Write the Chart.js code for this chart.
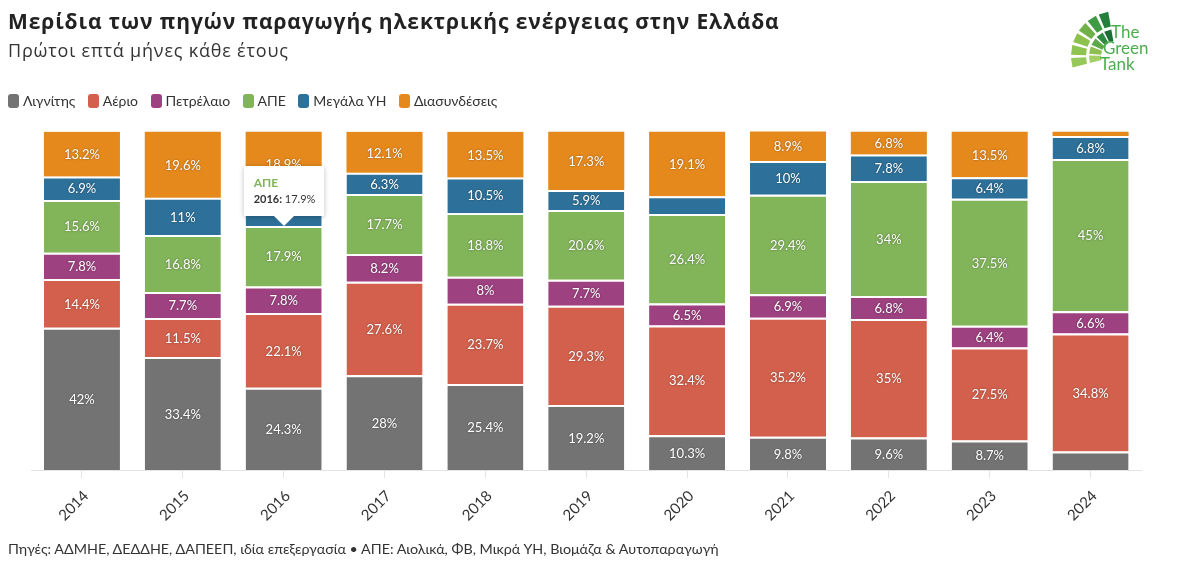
<!DOCTYPE html>
<html>
<head>
<meta charset="utf-8">
<script src="https://cdn.jsdelivr.net/npm/chart.js@4"></script>
<style>
  body { margin:0; background:#fff; font-family: Lato, "Open Sans", sans-serif; color:#333; }
  #wrap { position:relative; width:1183px; height:581px; overflow:hidden; }
  #c { position:absolute; left:0; top:0; }
  .txt { position:absolute; white-space:nowrap; }
  #title { left:8px; top:7px; font-family:"Open Sans", Lato, sans-serif; font-size:21px; letter-spacing:0.9px; font-weight:bold; color:#222; }
  #sub { left:8px; top:38px; font-family:"Open Sans", Lato, sans-serif; font-size:18px; letter-spacing:0.8px; color:#333; }
  #legend { left:8px; top:92px; font-size:14px; display:flex; }
  #legend span.item { display:flex; align-items:center; margin-right:12.5px; }
  #legend i { display:inline-block; width:11px; height:14px; border-radius:3px; margin-right:4px; }
  #foot { left:8px; top:540px; font-size:14.3px; color:#333; }
  #tip { position:absolute; display:none; background:#fff; width:80px; height:50px; box-sizing:border-box;
         padding:9px 0 0 10px; box-shadow:0 1px 5px rgba(0,0,0,0.25); font-size:11px; color:#333; }
  #tip .t { font-weight:bold; font-size:12px; margin-bottom:2px; }
  #tip:after { content:""; position:absolute; left:30px; bottom:-10px; border-left:10px solid transparent;
         border-right:10px solid transparent; border-top:10px solid #fff; }
  .logo { position:absolute; color:#4cae4f; font-size:17px; line-height:16px; }
</style>
</head>
<body>
<div id="wrap">
  <canvas id="c" width="1183" height="581"></canvas>
  <div class="txt" id="title">Μερίδια των πηγών παραγωγής ηλεκτρικής ενέργειας στην Ελλάδα</div>
  <div class="txt" id="sub">Πρώτοι επτά μήνες κάθε έτους</div>
  <div class="txt" id="legend"></div>
  <div class="txt" id="foot">Πηγές: ΑΔΜΗΕ, ΔΕΔΔΗΕ, ΔΑΠΕΕΠ, ιδία επεξεργασία • ΑΠΕ: Αιολικά, ΦΒ, Μικρά ΥΗ, Βιομάζα &amp; Αυτοπαραγωγή</div>
  <svg id="fan" style="position:absolute;left:1060px;top:0px" width="60" height="80"></svg>
  <div class="logo" style="left:1111px;top:24px">The</div>
  <div class="logo" style="left:1103px;top:40px">Green</div>
  <div class="logo" style="left:1100px;top:56px">Tank</div>
  <div id="tip"><div class="t"></div><div class="b"></div></div>
</div>
<script>
// κατηγορίες (έτη)
const years = ['2014','2015','2016','2017','2018','2019','2020','2021','2022','2023','2024'];

// μερίδια % ανά πηγή
const lignite      = [42, 33.4, 24.3, 28, 25.4, 19.2, 10.3, 9.8, 9.6, 8.7, 5.5];
const gas          = [14.4, 11.5, 22.1, 27.6, 23.7, 29.3, 32.4, 35.2, 35, 27.5, 34.8];
const oil          = [7.8, 7.7, 7.8, 8.2, 8, 7.7, 6.5, 6.9, 6.8, 6.4, 6.6];
const res          = [15.6, 16.8, 17.9, 17.7, 18.8, 20.6, 26.4, 29.4, 34, 37.5, 45];
const largeHydro   = [6.9, 11, 9, 6.3, 10.5, 5.9, 5.3, 10, 7.8, 6.4, 6.8];
const interconnect = [13.2, 19.6, 18.9, 12.1, 13.5, 17.3, 19.1, 8.9, 6.8, 13.5, 1.3];

const seriesNames = ['Λιγνίτης','Αέριο','Πετρέλαιο','ΑΠΕ','Μεγάλα ΥΗ','Διασυνδέσεις'];
const seriesColors = ['#737373','#d2604c','#9d4180','#82b45a','#2d7099','#e5891d'];
const seriesData = [lignite, gas, oil, res, largeHydro, interconnect];

// legend
const lg = document.getElementById('legend');
seriesNames.forEach((n, i) => {
  const s = document.createElement('span');
  s.className = 'item';
  s.innerHTML = '<i style="background:' + seriesColors[i] + '"></i>' + n;
  lg.appendChild(s);
});

// logo fan
(function () {
  const svg = document.getElementById('fan');
  const cx = 56, cy = 56;
  const rings = [[30, 45, 6, ['#96c95a','#8fc450','#8cc24c','#6fb148','#3f9a44','#22803c']],
                 [15, 27, 5, ['#a3cf66','#8cc152','#5ea947','#2e8a3e','#1b6f35']]];
  let html = '';
  rings.forEach(([r0, r1, n, cols]) => {
    const a0 = 197, a1 = 98, step = (a0 - a1) / n;
    for (let k = 0; k < n; k++) {
      const s = (a0 - k * step - 2) * Math.PI / 180, e = (a0 - (k + 1) * step + 2) * Math.PI / 180;
      const p = (r, a) => (cx + r * Math.cos(a)).toFixed(1) + ',' + (cy - r * Math.sin(a)).toFixed(1);
      html += '<polygon fill="' + cols[k] + '" points="' + p(r0, s) + ' ' + p(r1, s) + ' ' + p(r1, e) + ' ' + p(r0, e) + '"/>';
    }
  });
  svg.innerHTML = html;
})();

const fmt = v => String(v) + '%';

// τιμές μέσα στις μπάρες
const segLabels = {
  id: 'segLabels',
  afterDatasetsDraw(chart) {
    const ctx = chart.ctx;
    ctx.save();
    ctx.font = '13px Lato, "Open Sans", sans-serif';
    ctx.textAlign = 'center';
    ctx.textBaseline = 'middle';
    chart.data.datasets.forEach((ds, i) => {
      chart.getDatasetMeta(i).data.forEach((bar, j) => {
        const v = ds.data[j];
        if (v < 5.8) return;
        const p = bar.getCenterPoint();
        ctx.shadowColor = 'rgba(0,0,0,0.45)';
        ctx.shadowBlur = 2;
        ctx.fillStyle = '#fff';
        ctx.fillText(fmt(v), p.x, p.y + 1);
      });
    });
    ctx.restore();
  }
};

const tipEl = document.getElementById('tip');
function externalTip(context) {
  const tooltip = context.tooltip;
  if (tooltip.opacity === 0 || !tooltip.dataPoints || !tooltip.dataPoints.length) {
    tipEl.style.display = 'none';
    return;
  }
  const dp = tooltip.dataPoints[0];
  tipEl.querySelector('.t').textContent = dp.dataset.label;
  tipEl.querySelector('.t').style.color = dp.dataset.backgroundColor;
  tipEl.querySelector('.b').innerHTML = '<b>' + dp.label + ':</b> ' + fmt(dp.raw);
  const el = dp.element;
  tipEl.style.display = 'block';
  tipEl.style.left = (el.x - 40) + 'px';
  tipEl.style.top = (el.y - 60) + 'px';
}

const chart = new Chart(document.getElementById('c'), {
  type: 'bar',
  data: {
    labels: years,
    datasets: seriesData.map((d, i) => ({
      label: seriesNames[i],
      data: d,
      backgroundColor: seriesColors[i],
      borderColor: '#fff',
      borderWidth: i < seriesData.length - 1 ? {top: 2, bottom: 0, left: 0, right: 0} : 0,
      borderSkipped: false,
      categoryPercentage: 1,
      barPercentage: 0.754
    }))
  },
  options: {
    responsive: false,
    animation: false,
    layout: { padding: { left: 31.5, right: 42, top: 131.5, bottom: 51 } },
    scales: {
      x: {
        stacked: true,
        afterFit: s => { s.height = 60; },
        border: { color: '#e3e3e3' },
        grid: { display: true, offset: false, drawOnChartArea: false, tickLength: 8, color: '#e3e3e3' },
        ticks: { minRotation: 45, maxRotation: 45, color: '#333', padding: 9, labelOffset: 4,
                 font: { family: 'Lato, "Open Sans", sans-serif', size: 15 } }
      },
      y: { stacked: true, display: false, min: 0, max: 100 }
    },
    plugins: {
      legend: { display: false },
      tooltip: { enabled: false, external: externalTip }
    }
  },
  plugins: [segLabels]
});

// ο δείκτης πάνω από ΑΠΕ 2016, όπως στην εικόνα
chart.tooltip.setActiveElements([{ datasetIndex: 3, index: 2 }], { x: 0, y: 0 });
</script>
</body>
</html>
